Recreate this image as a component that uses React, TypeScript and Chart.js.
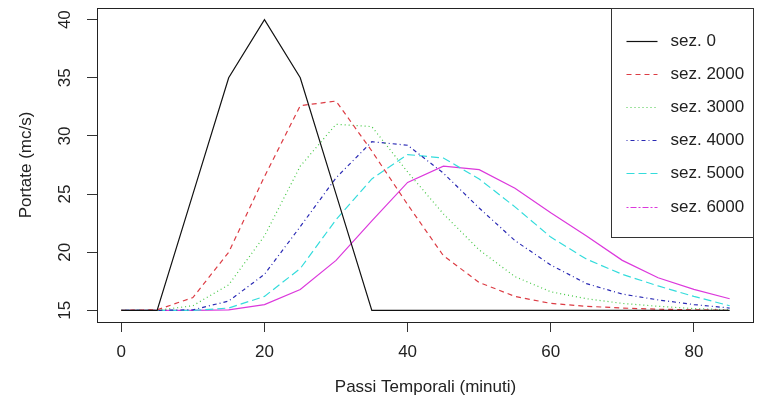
import React, { useEffect, useRef } from "react";
import { Chart, registerables } from "chart.js";

Chart.register(...registerables);

// ---- data ----
const minutes = [0, 5, 10, 15, 20, 25, 30, 35, 40, 45, 50, 55, 60, 65, 70, 75, 80, 85];
const sez0 = [15, 15, 25, 35, 40, 35, 25, 15, 15, 15, 15, 15, 15, 15, 15, 15, 15, 15];
const sez2000 = [15, 15.05, 16.1, 20.0, 26.5, 32.6, 33.0, 28.7, 24.1, 19.7, 17.4, 16.2, 15.6, 15.35, 15.2, 15.1, 15.05, 15.0];
const sez3000 = [15, 15, 15.4, 17.2, 21.4, 27.4, 31.0, 30.8, 26.9, 23.3, 20.2, 17.9, 16.6, 16.0, 15.6, 15.35, 15.15, 15.05];
const sez4000 = [15, 15, 15.05, 15.8, 18.1, 22.2, 26.4, 29.5, 29.2, 26.8, 23.8, 21.0, 18.9, 17.3, 16.4, 15.9, 15.5, 15.2];
const sez5000 = [15, 15, 15, 15.2, 16.2, 18.6, 22.8, 26.3, 28.4, 28.1, 26.3, 23.9, 21.3, 19.4, 18.1, 17.1, 16.2, 15.4];
const sez6000 = [15, 15, 15, 15.05, 15.5, 16.8, 19.3, 22.7, 26.0, 27.4, 27.1, 25.5, 23.4, 21.4, 19.3, 17.8, 16.8, 16.0];

const seriesLabels = ["sez. 0", "sez. 2000", "sez. 3000", "sez. 4000", "sez. 5000", "sez. 6000"];
const seriesValues = [sez0, sez2000, sez3000, sez4000, sez5000, sez6000];

const xTickValues = [0, 20, 40, 60, 80];
const yTickValues = [15, 20, 25, 30, 35, 40];
const xTitle = "Passi Temporali (minuti)";
const yTitle = "Portate (mc/s)";

// ---- styles ----
const colors = ["#111111", "#dc3c44", "#44c844", "#2a2ab4", "#34dcdc", "#dc38dc"];
const plotDash: number[][] = [[], [5, 4], [1, 3], [1, 3, 4, 3], [8, 4], []];
const legendDash: number[][] = [[], [5, 4], [1, 3], [1, 3, 4, 3], [8, 4], [2, 2, 6, 2]];
const FONT = "'Liberation Sans', Arial, Helvetica, sans-serif";
const FS = 17;

const rFrameAndLegend = {
  id: "rFrameAndLegend",
  afterDraw(chart: any) {
    const { ctx, chartArea: a } = chart;
    ctx.save();
    ctx.lineWidth = 1;
    ctx.strokeStyle = "#222";
    ctx.setLineDash([]);
    const L = Math.round(a.left) + 0.5;
    const T = Math.round(a.top) + 0.5;
    const R = Math.round(a.right) - 0.5;
    const B = Math.round(a.bottom) + 0.5;
    ctx.strokeRect(L, T, R - L, B - T);

    // legend box (R style, top-right)
    const lw = 142;
    const lh = 229;
    const lx = R - lw;
    const ly = T;
    ctx.fillStyle = "#ffffff";
    ctx.fillRect(lx, ly, lw, lh);
    ctx.strokeStyle = "#333";
    ctx.strokeRect(lx, ly, lw, lh);
    ctx.font = `${FS}px ${FONT}`;
    ctx.textBaseline = "middle";
    ctx.textAlign = "left";
    chart.data.datasets.forEach((ds: any, i: number) => {
      const y = Math.round(ly + 32 + i * 33.2) + 0.5;
      ctx.strokeStyle = colors[i];
      ctx.lineWidth = 1.2;
      ctx.setLineDash(legendDash[i]);
      ctx.beginPath();
      ctx.moveTo(lx + 15, y);
      ctx.lineTo(lx + 46, y);
      ctx.stroke();
      ctx.setLineDash([]);
      ctx.fillStyle = "#222";
      ctx.fillText(ds.label, lx + 59, y);
    });
    ctx.restore();
  },
};

export default function App() {
  const ref = useRef<HTMLCanvasElement | null>(null);

  useEffect(() => {
    if (!ref.current) return;
    const chart = new Chart(ref.current, {
      type: "line",
      data: {
        datasets: seriesValues.map((vals, i) => ({
          label: seriesLabels[i],
          data: vals.map((v, j) => ({ x: minutes[j], y: v })),
          borderColor: colors[i],
          backgroundColor: colors[i],
          borderWidth: 1.2,
          borderDash: plotDash[i],
          pointRadius: 0,
          tension: 0,
          fill: false,
        })),
      },
      options: {
        animation: false,
        responsive: false,
        devicePixelRatio: 1,
        layout: { padding: { left: 0, right: 5, top: 8, bottom: 0 } },
        plugins: { legend: { display: false }, tooltip: { enabled: false } },
        scales: {
          x: {
            type: "linear",
            min: -3.4,
            max: 88.4,
            afterBuildTicks: (s: any) => {
              s.ticks = xTickValues.map((v) => ({ value: v }));
            },
            afterFit: (s: any) => {
              s.height = 82;
              s.paddingLeft = 0;
              s.paddingRight = 0;
            },
            border: { display: false },
            grid: {
              display: true,
              drawOnChartArea: false,
              drawTicks: true,
              tickLength: 10,
              color: "#333",
              lineWidth: 1,
            },
            ticks: {
              autoSkip: false,
              maxRotation: 0,
              padding: 10,
              color: "#222",
              font: { family: FONT, size: FS },
              callback: (v: any) => String(v),
            },
            title: {
              display: true,
              text: xTitle,
              color: "#222",
              font: { family: FONT, size: FS },
              padding: { top: 0, bottom: 6 },
            },
          },
          y: {
            type: "linear",
            min: 14,
            max: 41,
            afterBuildTicks: (s: any) => {
              s.ticks = yTickValues.map((v) => ({ value: v }));
            },
            afterFit: (s: any) => {
              s.width = 97;
              s.paddingTop = 0;
              s.paddingBottom = 0;
            },
            border: { display: false },
            grid: {
              display: true,
              drawOnChartArea: false,
              drawTicks: true,
              tickLength: 10,
              color: "#333",
              lineWidth: 1,
            },
            ticks: {
              autoSkip: false,
              minRotation: 90,
              maxRotation: 90,
              crossAlign: "center",
              padding: 12,
              color: "#222",
              font: { family: FONT, size: FS },
              callback: (v: any) => String(v),
            },
            title: {
              display: true,
              text: yTitle,
              color: "#222",
              font: { family: FONT, size: FS },
              padding: { top: 16, bottom: 0 },
            },
          },
        },
      },
      plugins: [rFrameAndLegend],
    } as any);
    return () => chart.destroy();
  }, []);

  return (
    <div style={{ position: "fixed", left: 0, top: 0, width: 759, height: 404, background: "#fff" }}>
      <canvas ref={ref} width={759} height={404} style={{ display: "block" }} />
    </div>
  );
}
